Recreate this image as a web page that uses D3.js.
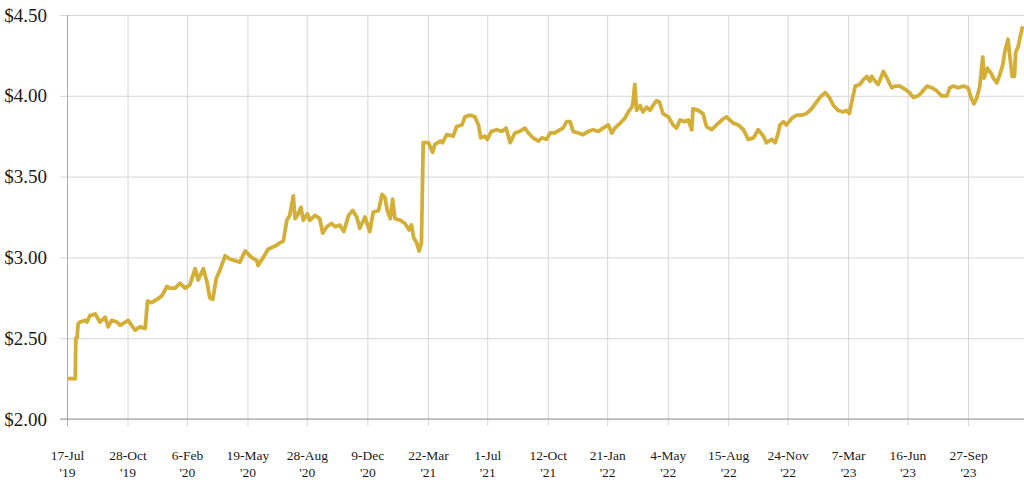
<!DOCTYPE html>
<html>
<head>
<meta charset="utf-8">
<script src="https://cdn.jsdelivr.net/npm/d3@7"></script>
<style>
  body { margin: 0; background: #fff; }
  svg { display: block; }
  svg text { font-family: "Liberation Serif", "DejaVu Serif", serif; }
</style>
</head>
<body>
<div id="vis"></div>
<script>
// series start date, and days since that date for each reading
var START = "2019-07-17";
var END = "2023-12-29";

var dayOffsets = [
	0, 14, 15, 17, 19, 22, 31, 34, 39, 48, 56, 65, 70, 76, 85, 90, 99, 104, 110, 116,
	124, 133, 137, 144, 153, 161, 170, 175, 184, 192, 201, 209, 218, 223, 232, 238, 243, 248, 254, 260,
	269, 277, 286, 294, 303, 314, 323, 325, 334, 342, 354, 362, 368, 374, 379, 385, 388, 392, 398, 402,
	409, 413, 422, 430, 435, 442, 450, 456, 464, 471, 479, 486, 493, 498, 507, 515, 521, 530, 536, 541,
	545, 550, 554, 558, 567, 575, 582, 586, 590, 595, 599, 603, 606, 615, 622, 626, 635, 639, 646, 657,
	663, 672, 677, 686, 694, 700, 704, 711, 715, 722, 731, 740, 747, 754, 762, 770, 779, 785, 793, 802,
	808, 816, 822, 830, 839, 844, 850, 856, 861, 870, 878, 887, 895, 904, 912, 921, 927, 932, 941, 949,
	955, 961, 963, 966, 969, 975, 980, 986, 992, 997, 1003, 1008, 1014, 1023, 1031, 1037, 1043, 1051, 1057, 1063,
	1065, 1074, 1082, 1088, 1097, 1105, 1114, 1122, 1128, 1134, 1142, 1151, 1159, 1168, 1176, 1185, 1190, 1199, 1205, 1210,
	1213, 1219, 1224, 1233, 1241, 1250, 1258, 1267, 1273, 1281, 1290, 1297, 1304, 1312, 1321, 1326, 1331, 1335, 1341, 1349,
	1355, 1361, 1366, 1369, 1375, 1380, 1389, 1395, 1403, 1409, 1417, 1426, 1433, 1440, 1448, 1454, 1463, 1471, 1480, 1488,
	1497, 1502, 1508, 1516, 1525, 1533, 1539, 1543, 1548, 1553, 1558, 1560, 1566, 1572, 1576, 1582, 1587, 1592, 1596, 1601,
	1604, 1608, 1612, 1614, 1618, 1622, 1626
];

var prices = [
	2.25, 2.25, 2.50, 2.50, 2.59, 2.60, 2.61, 2.60, 2.64, 2.65, 2.60, 2.63, 2.57, 2.61, 2.60, 2.58, 2.60, 2.61, 2.58, 2.55,
	2.57, 2.56, 2.73, 2.72, 2.74, 2.76, 2.82, 2.81, 2.81, 2.84, 2.81, 2.83, 2.93, 2.86, 2.93, 2.85, 2.75, 2.74, 2.87, 2.92,
	3.01, 2.99, 2.98, 2.97, 3.04, 3.00, 2.98, 2.95, 3.00, 3.05, 3.07, 3.09, 3.10, 3.23, 3.26, 3.38, 3.24, 3.26, 3.31, 3.23,
	3.27, 3.23, 3.26, 3.24, 3.15, 3.19, 3.21, 3.19, 3.20, 3.16, 3.26, 3.29, 3.25, 3.18, 3.25, 3.16, 3.28, 3.29, 3.39, 3.37,
	3.29, 3.24, 3.36, 3.24, 3.23, 3.21, 3.17, 3.20, 3.12, 3.09, 3.04, 3.09, 3.71, 3.71, 3.65, 3.70, 3.72, 3.71, 3.76, 3.75,
	3.81, 3.82, 3.87, 3.88, 3.87, 3.82, 3.74, 3.75, 3.73, 3.78, 3.79, 3.78, 3.80, 3.71, 3.77, 3.78, 3.80, 3.77, 3.74, 3.72,
	3.74, 3.73, 3.77, 3.77, 3.79, 3.80, 3.84, 3.84, 3.78, 3.77, 3.76, 3.78, 3.79, 3.78, 3.80, 3.82, 3.77, 3.80, 3.83, 3.86,
	3.90, 3.93, 3.96, 4.07, 3.91, 3.94, 3.90, 3.93, 3.91, 3.94, 3.97, 3.96, 3.89, 3.87, 3.82, 3.80, 3.85, 3.84, 3.85, 3.79,
	3.92, 3.91, 3.89, 3.81, 3.79, 3.82, 3.85, 3.87, 3.85, 3.83, 3.82, 3.79, 3.73, 3.74, 3.79, 3.75, 3.71, 3.73, 3.71, 3.77,
	3.82, 3.84, 3.82, 3.86, 3.88, 3.88, 3.89, 3.92, 3.95, 3.99, 4.02, 3.99, 3.94, 3.91, 3.90, 3.91, 3.89, 3.96, 4.06, 4.07,
	4.10, 4.12, 4.09, 4.12, 4.09, 4.07, 4.15, 4.11, 4.05, 4.06, 4.06, 4.04, 4.02, 3.99, 4.00, 4.02, 4.06, 4.05, 4.03, 4.00,
	4.00, 4.05, 4.06, 4.05, 4.06, 4.05, 3.98, 3.95, 3.99, 4.06, 4.24, 4.11, 4.17, 4.14, 4.11, 4.08, 4.13, 4.19, 4.28, 4.35,
	4.25, 4.12, 4.12, 4.27, 4.30, 4.37, 4.43
];

var tickDates = [
	"2019-07-17", "2019-10-28", "2020-02-06", "2020-05-19", "2020-08-28", "2020-12-09",
	"2021-03-22", "2021-07-01", "2021-10-12", "2022-01-21", "2022-05-04", "2022-08-15",
	"2022-11-24", "2023-03-07", "2023-06-16", "2023-09-27"
];

var yTicks = [2.00, 2.50, 3.00, 3.50, 4.00, 4.50];

// canvas size and margins
var W = 1024, H = 484;
var margin = { top: 15, left: 67, bottom: 65, right: 1.3 };
var width = W - margin.left - margin.right;
var height = H - margin.top - margin.bottom;

var parse = d3.timeParse("%Y-%m-%d");
var start = parse(START);

var data = dayOffsets.map(function (d, i) {
	return { date: d3.timeDay.offset(start, d), value: prices[i] };
});

var x = d3.scaleTime()
	.domain([start, parse(END)])
	.range([0, width]);

var y = d3.scaleLinear()
	.domain([2, 4.5])
	.range([height, 0]);

var svg = d3.select('#vis').append('svg')
	.attr('width', W)
	.attr('height', H);

var g = svg.append('g').attr('transform', 'translate(' + margin.left + ',' + margin.top + ')');

// horizontal grid + y labels
var yAxis = g.append('g')
	.attr('class', 'y axis')
	.call(d3.axisLeft(y)
		.tickValues(yTicks)
		.tickSize(7)
		.tickPadding(13)
		.tickFormat(function (d) { return '$' + d3.format('.2f')(d); }))
	.attr('font-family', null)
	.attr('font-size', null);
yAxis.select('.domain').remove();
yAxis.selectAll('.tick line')
	.attr('x1', -7)
	.attr('x2', width + margin.right)
	.attr('stroke', '#d6d6d6');
yAxis.selectAll('.tick text')
	.attr('fill', '#1a1a1a')
	.style('font-size', '19px');

// vertical grid + two line date labels
var fmtDay = d3.timeFormat('%-d-%b');
var fmtYear = d3.timeFormat("'%y");
var xAxis = g.append('g')
	.attr('class', 'x axis')
	.attr('transform', 'translate(0,' + height + ')')
	.call(d3.axisBottom(x)
		.tickValues(tickDates.map(parse))
		.tickSize(7)
		.tickFormat(''))
	.attr('font-family', null)
	.attr('font-size', null);
xAxis.select('.domain').remove();
xAxis.selectAll('.tick line')
	.attr('y1', -height)
	.attr('y2', 7)
	.attr('stroke', function (d, i) { return i === 0 ? '#aaa' : '#d6d6d6'; });

var labels = xAxis.selectAll('.tick').append('text')
	.attr('fill', '#1a1a1a')
	.attr('text-anchor', 'middle')
	.style('font-size', '13.5px');
labels.append('tspan').attr('x', 0).attr('y', 41).text(function (d) { return fmtDay(d); });
labels.append('tspan').attr('x', 0).attr('y', 58).text(function (d) { return fmtYear(d); });

// bottom axis line
g.append('line')
	.attr('x1', -7)
	.attr('x2', width + margin.right)
	.attr('y1', height)
	.attr('y2', height)
	.attr('stroke', '#999');

// price line
g.append('path')
	.datum(data)
	.attr('fill', 'none')
	.attr('stroke', '#d4af37')
	.attr('stroke-width', 3.8)
	.attr('stroke-linejoin', 'round')
	.attr('d', d3.line()
		.x(function (d) { return x(d.date); })
		.y(function (d) { return y(d.value); }));
</script>
</body>
</html>
